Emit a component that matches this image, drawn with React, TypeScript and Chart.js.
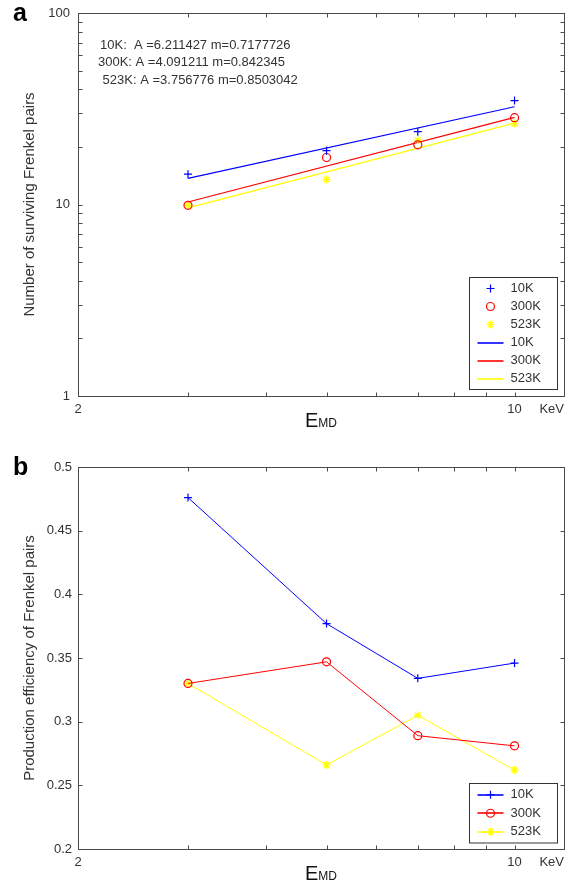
import React, { useEffect, useRef } from 'react';
import { Chart, registerables } from 'chart.js';

Chart.register(...registerables);

const FONT = '"Liberation Sans", Arial, sans-serif';
const BLUE = '#0000ff';
const RED = '#ff0000';
const YELLOW = '#ffff00';
const AXIS = '#4a4a4a';
const TEXT = '#333333';

// ---- data ----
const energies = [3, 5, 7, 10];
const n10K = [14.4, 19.1, 24.0, 34.9];
const n300K = [9.9, 17.6, 20.5, 28.4];
const n523K = [9.9, 13.5, 21.7, 26.5];

const fitEnergies = [3, 10];
const fit10K = [13.7, 32.4];
const fit300K = [10.3, 28.5];
const fit523K = [9.6, 26.6];

const eff10K = [0.476, 0.377, 0.334, 0.346];
const eff300K = [0.33, 0.347, 0.289, 0.281];
const eff523K = [0.33, 0.266, 0.305, 0.262];

const xTicks = [2, 3, 4, 5, 6, 7, 8, 9, 10];
const xTickLabels = [2, 10];
const yTicksA = [1, 2, 3, 4, 5, 6, 7, 8, 9, 10, 20, 30, 40, 50, 60, 70, 80, 90, 100];
const yTickLabelsA = [1, 10, 100];
const yTicksB = [0.2, 0.25, 0.3, 0.35, 0.4, 0.45, 0.5];

const fitText = [
  '10K:  A =6.211427 m=0.7177726',
  '300K: A =4.091211 m=0.842345',
  ' 523K: A =3.756776 m=0.8503042',
];

const pts = (xs: number[], ys: number[]) => xs.map((x, i) => ({ x, y: ys[i] }));

function drawMarker(ctx: CanvasRenderingContext2D, style: string, x: number, y: number, r: number, color: string) {
  ctx.save();
  ctx.strokeStyle = color;
  ctx.lineWidth = 1.2;
  ctx.beginPath();
  if (style === 'circle') {
    ctx.arc(x, y, r, 0, Math.PI * 2);
  } else {
    ctx.moveTo(x - r, y);
    ctx.lineTo(x + r, y);
    ctx.moveTo(x, y - r);
    ctx.lineTo(x, y + r);
    if (style === 'star') {
      const d = r * 0.707;
      ctx.moveTo(x - d, y - d);
      ctx.lineTo(x + d, y + d);
      ctx.moveTo(x - d, y + d);
      ctx.lineTo(x + d, y - d);
    }
  }
  ctx.stroke();
  ctx.restore();
}

type Decor = {
  letter: string;
  yTitle: string;
  legendWidth: number;
  rowH: number;
  lines?: string[];
};

function makeDecor(d: Decor) {
  return {
    id: 'decor',
    afterDraw(chart: any) {
      const ctx: CanvasRenderingContext2D = chart.ctx;
      const { left, right, top, bottom } = chart.chartArea;
      const xs = chart.scales.x;
      const ys = chart.scales.y;
      const TL = 4;
      ctx.save();
      // frame
      ctx.strokeStyle = AXIS;
      ctx.lineWidth = 1;
      const L = Math.round(left) + 0.5, R = Math.round(right) + 0.5;
      const T = Math.round(top) + 0.5, B = Math.round(bottom) + 0.5;
      ctx.strokeRect(L, T, R - L, B - T);
      ctx.beginPath();
      xs.ticks.forEach((t: any) => {
        const p = Math.round(xs.getPixelForValue(t.value)) + 0.5;
        ctx.moveTo(p, B);
        ctx.lineTo(p, B - TL);
        ctx.moveTo(p, T);
        ctx.lineTo(p, T + TL);
      });
      ys.ticks.forEach((t: any) => {
        const p = Math.round(ys.getPixelForValue(t.value)) + 0.5;
        ctx.moveTo(L, p);
        ctx.lineTo(L + TL, p);
        ctx.moveTo(R, p);
        ctx.lineTo(R - TL, p);
      });
      ctx.stroke();

      // panel letter
      ctx.fillStyle = '#000';
      ctx.font = `bold 25px ${FONT}`;
      ctx.textAlign = 'left';
      ctx.textBaseline = 'alphabetic';
      ctx.fillText(d.letter, 13, top + 8);

      // y title
      ctx.save();
      ctx.translate(30, (top + bottom) / 2);
      ctx.rotate(-Math.PI / 2);
      ctx.textAlign = 'center';
      ctx.textBaseline = 'middle';
      ctx.fillStyle = TEXT;
      ctx.font = `15px ${FONT}`;
      ctx.fillText(d.yTitle, 0, 0);
      ctx.restore();

      // x title E_MD
      ctx.fillStyle = '#111';
      ctx.font = `20px ${FONT}`;
      const wE = ctx.measureText('E').width;
      ctx.font = `12px ${FONT}`;
      const wM = ctx.measureText('MD').width;
      const cx = (left + right) / 2;
      const x0 = cx - (wE + wM) / 2;
      const base = bottom + 31;
      ctx.textAlign = 'left';
      ctx.textBaseline = 'alphabetic';
      ctx.font = `20px ${FONT}`;
      ctx.fillText('E', x0, base);
      ctx.font = `12px ${FONT}`;
      ctx.fillText('MD', x0 + wE, base);

      // KeV
      ctx.fillStyle = TEXT;
      ctx.font = `13px ${FONT}`;
      ctx.textAlign = 'right';
      ctx.textBaseline = 'middle';
      ctx.fillText('KeV', right, bottom + 13);

      // fit text
      if (d.lines) {
        ctx.textAlign = 'left';
        ctx.font = `13px ${FONT}`;
        const offs = [100, 98, 99];
        d.lines.forEach((s, i) => ctx.fillText(s, offs[i], top + 32 + i * 17.5));
      }

      // legend
      const ds = chart.data.datasets;
      const lw = d.legendWidth;
      const lh = ds.length * d.rowH + 4;
      const bx = Math.round(right - 7 - lw) + 0.5;
      const by = Math.round(bottom - 7 - lh) + 0.5;
      ctx.fillStyle = '#fff';
      ctx.fillRect(bx, by, lw, lh);
      ctx.strokeStyle = '#333';
      ctx.lineWidth = 1;
      ctx.strokeRect(bx, by, lw, lh);
      ds.forEach((dset: any, i: number) => {
        const y = by + 2 + d.rowH * (i + 0.5);
        const mx = bx + 21;
        if (dset.showLine) {
          ctx.save();
          ctx.strokeStyle = dset.borderColor;
          ctx.lineWidth = 1.6;
          ctx.beginPath();
          ctx.moveTo(bx + 8, Math.round(y));
          ctx.lineTo(bx + 34, Math.round(y));
          ctx.stroke();
          ctx.restore();
        }
        if (dset.pointRadius > 0) {
          drawMarker(ctx, dset.pointStyle, mx, y, 4, dset.borderColor);
        }
        ctx.fillStyle = TEXT;
        ctx.font = `13px ${FONT}`;
        ctx.textAlign = 'left';
        ctx.textBaseline = 'middle';
        ctx.fillText(dset.label, bx + 41, y);
      });
      ctx.restore();
    },
  };
}

function fixWidth(w: number) {
  return (scale: any) => {
    scale.width = w;
    scale.paddingLeft = 0;
    scale.paddingRight = 0;
    scale.paddingTop = 0;
    scale.paddingBottom = 0;
  };
}
function fixHeight(h: number) {
  return (scale: any) => {
    scale.height = h;
    scale.paddingLeft = 0;
    scale.paddingRight = 0;
    scale.paddingTop = 0;
    scale.paddingBottom = 0;
  };
}

function xScale(bottomH: number) {
  return {
    type: 'logarithmic',
    min: 2,
    max: 12,
    grid: { display: false, drawTicks: false },
    border: { display: false },
    afterBuildTicks: (s: any) => {
      s.ticks = xTicks.map((v) => ({ value: v }));
    },
    afterFit: fixHeight(bottomH),
    ticks: {
      autoSkip: false,
      maxRotation: 0,
      padding: 6,
      color: TEXT,
      font: { family: FONT, size: 13 },
      callback: (v: any) => (xTickLabels.includes(Number(v)) ? String(v) : ''),
    },
  };
}

function PanelA() {
  const ref = useRef<HTMLCanvasElement>(null);
  useEffect(() => {
    const chart = new Chart(ref.current!, {
      type: 'scatter',
      data: {
        datasets: [
          { label: '10K', data: pts(energies, n10K), showLine: false, pointStyle: 'cross', pointRadius: 4, borderColor: BLUE, backgroundColor: BLUE, pointBorderWidth: 1.2 },
          { label: '300K', data: pts(energies, n300K), showLine: false, pointStyle: 'circle', pointRadius: 4, borderColor: RED, backgroundColor: 'rgba(0,0,0,0)', pointBorderWidth: 1.2 },
          { label: '523K', data: pts(energies, n523K), showLine: false, pointStyle: 'star', pointRadius: 4, borderColor: YELLOW, backgroundColor: YELLOW, pointBorderWidth: 1.2 },
          { label: '10K', data: pts(fitEnergies, fit10K), showLine: true, pointRadius: 0, borderColor: BLUE, borderWidth: 1.2 },
          { label: '300K', data: pts(fitEnergies, fit300K), showLine: true, pointRadius: 0, borderColor: RED, borderWidth: 1.2 },
          { label: '523K', data: pts(fitEnergies, fit523K), showLine: true, pointRadius: 0, borderColor: YELLOW, borderWidth: 1.2 },
        ] as any,
      },
      options: {
        responsive: false,
        animation: false,
        devicePixelRatio: 1,
        layout: { padding: { left: 0, right: 14, top: 13, bottom: 0 } },
        plugins: { legend: { display: false }, tooltip: { enabled: false } },
        scales: {
          x: xScale(44) as any,
          y: {
            type: 'logarithmic',
            min: 1,
            max: 100,
            grid: { display: false, drawTicks: false },
            border: { display: false },
            afterBuildTicks: (s: any) => {
              s.ticks = yTicksA.map((v) => ({ value: v }));
            },
            afterFit: fixWidth(78),
            ticks: {
              autoSkip: false,
              padding: 8,
              color: TEXT,
              font: { family: FONT, size: 13 },
              callback: (v: any) => (yTickLabelsA.includes(Number(v)) ? String(v) : ''),
            },
          } as any,
        },
      },
      plugins: [makeDecor({ letter: 'a', yTitle: 'Number of surviving Frenkel pairs', legendWidth: 88, rowH: 18, lines: fitText }) as any],
    });
    return () => chart.destroy();
  }, []);
  return <canvas ref={ref} width={578} height={440} style={{ display: 'block' }} />;
}

function PanelB() {
  const ref = useRef<HTMLCanvasElement>(null);
  useEffect(() => {
    const chart = new Chart(ref.current!, {
      type: 'scatter',
      data: {
        datasets: [
          { label: '10K', data: pts(energies, eff10K), showLine: true, pointStyle: 'cross', pointRadius: 4, borderColor: BLUE, backgroundColor: BLUE, borderWidth: 1, pointBorderWidth: 1.2 },
          { label: '300K', data: pts(energies, eff300K), showLine: true, pointStyle: 'circle', pointRadius: 4, borderColor: RED, backgroundColor: 'rgba(0,0,0,0)', borderWidth: 1, pointBorderWidth: 1.2 },
          { label: '523K', data: pts(energies, eff523K), showLine: true, pointStyle: 'star', pointRadius: 4, borderColor: YELLOW, backgroundColor: YELLOW, borderWidth: 1, pointBorderWidth: 1.2 },
        ] as any,
      },
      options: {
        responsive: false,
        animation: false,
        devicePixelRatio: 1,
        layout: { padding: { left: 0, right: 14, top: 27, bottom: 0 } },
        plugins: { legend: { display: false }, tooltip: { enabled: false } },
        scales: {
          x: xScale(36) as any,
          y: {
            type: 'linear',
            min: 0.2,
            max: 0.5,
            grid: { display: false, drawTicks: false },
            border: { display: false },
            afterBuildTicks: (s: any) => {
              s.ticks = yTicksB.map((v) => ({ value: v }));
            },
            afterFit: fixWidth(78),
            ticks: {
              autoSkip: false,
              padding: 6,
              color: TEXT,
              font: { family: FONT, size: 13 },
              callback: (v: any) => String(Number(Number(v).toFixed(2))),
            },
          } as any,
        },
      },
      plugins: [makeDecor({ letter: 'b', yTitle: 'Production efficiency of Frenkel pairs', legendWidth: 88, rowH: 18.5 }) as any],
    });
    return () => chart.destroy();
  }, []);
  return <canvas ref={ref} width={578} height={445} style={{ display: 'block' }} />;
}

export default function App() {
  return (
    <div style={{ position: 'absolute', left: 0, top: 0, width: 578, height: 885, background: '#fff' }}>
      <PanelA />
      <PanelB />
    </div>
  );
}
